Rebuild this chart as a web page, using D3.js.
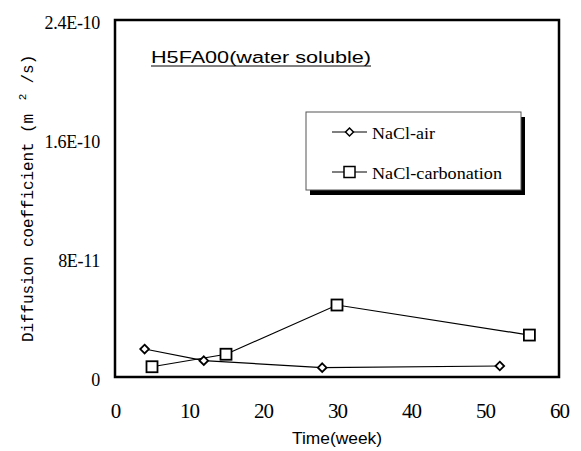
<!DOCTYPE html>
<html>
<head>
<meta charset="utf-8">
<script src="https://cdn.jsdelivr.net/npm/d3@7"></script>
<style>
  body { margin: 0; background: #fff; }
  svg { display: block; }
</style>
</head>
<body>
<div id="chart"></div>
<script>
// values
const airWeeks = [4, 12, 28, 52];
const airValues = [1.88e-11, 1.1e-11, 0.63e-11, 0.74e-11];
const carbWeeks = [5, 15, 30, 56];
const carbValues = [0.69e-11, 1.53e-11, 4.84e-11, 2.82e-11];
const xTicks = [0, 10, 20, 30, 40, 50, 60];
const yTicks = [0, 8e-11, 1.6e-10, 2.4e-10];
const yTickLabels = ["0", "8E-11", "1.6E-10", "2.4E-10"];
const seriesNames = ["NaCl-air", "NaCl-carbonation"];

const width = 581, height = 451;
const margin = { top: 20, right: 22, bottom: 74, left: 115 };

const x = d3.scaleLinear()
    .domain([0, 60])
    .range([margin.left, width - margin.right]);

const y = d3.scaleLinear()
    .domain([0, 2.4e-10])
    .range([height - margin.bottom, margin.top]);

const svg = d3.select("#chart").append("svg")
    .attr("width", width)
    .attr("height", height);

const serif = "'Liberation Serif', 'DejaVu Serif', serif";
const sans = "'Liberation Sans', Arial, sans-serif";

// plot frame
svg.append("rect")
    .attr("x", x(0))
    .attr("y", y(2.4e-10))
    .attr("width", x(60) - x(0))
    .attr("height", y(0) - y(2.4e-10))
    .attr("fill", "none")
    .attr("stroke", "#000")
    .attr("stroke-width", 2.5);

// x axis labels
const xAxis = svg.append("g")
    .attr("transform", `translate(0,${y(0)})`)
    .call(d3.axisBottom(x).tickValues(xTicks).tickSize(0).tickPadding(26));
xAxis.select(".domain").remove();
xAxis.selectAll("text")
    .attr("font-family", serif)
    .attr("font-size", 21)
    .attr("letter-spacing", -1)
    .attr("fill", "#000");

// y axis labels
const yAxis = svg.append("g")
    .attr("transform", `translate(${x(0)},3)`)
    .call(d3.axisLeft(y).tickValues(yTicks).tickSize(0).tickPadding(15)
        .tickFormat((d, i) => yTickLabels[i]));
yAxis.select(".domain").remove();
yAxis.selectAll("text")
    .attr("font-family", serif)
    .attr("font-size", 18)
    .attr("letter-spacing", -0.3)
    .attr("fill", "#000");

// axis titles
svg.append("text")
    .attr("x", 292)
    .attr("y", 444)
    .attr("font-family", sans)
    .attr("font-size", 16)
    .attr("textLength", 90)
    .attr("lengthAdjust", "spacingAndGlyphs")
    .text("Time(week)");

const ylab = svg.append("text")
    .attr("transform", `translate(33,342) rotate(-90)`)
    .attr("font-family", "'Liberation Mono', 'DejaVu Sans Mono', monospace")
    .attr("font-size", 16);
ylab.append("tspan").attr("textLength", 228).attr("lengthAdjust", "spacing")
    .text("Diffusion coefficient (m");
ylab.append("tspan").attr("dx", 14).attr("dy", -7).attr("font-size", 11).text("2");
ylab.append("tspan").attr("dx", 10).attr("dy", 7).text("/s)");

// chart title
svg.append("text")
    .attr("x", 151)
    .attr("y", 63)
    .attr("font-family", sans)
    .attr("font-size", 16)
    .attr("textLength", 220)
    .attr("lengthAdjust", "spacingAndGlyphs")
    .text("H5FA00(water soluble)");
svg.append("line")
    .attr("x1", 151).attr("x2", 371)
    .attr("y1", 66).attr("y2", 66)
    .attr("stroke", "#000")
    .attr("stroke-width", 1);

// lines
const line = d3.line().x(d => x(d[0])).y(d => y(d[1]));
const airData = airWeeks.map((w, i) => [w, airValues[i]]);
const carbData = carbWeeks.map((w, i) => [w, carbValues[i]]);

svg.append("path")
    .datum(airData)
    .attr("d", line)
    .attr("fill", "none")
    .attr("stroke", "#000")
    .attr("stroke-width", 1.2);

svg.append("path")
    .datum(carbData)
    .attr("d", line)
    .attr("fill", "none")
    .attr("stroke", "#000")
    .attr("stroke-width", 1.2);

const diamond = d3.symbol().type(d3.symbolDiamond2).size(48);

svg.append("g")
    .selectAll("path")
    .data(airData)
    .join("path")
    .attr("transform", d => `translate(${x(d[0])},${y(d[1])})`)
    .attr("d", diamond)
    .attr("fill", "#fff")
    .attr("stroke", "#000")
    .attr("stroke-width", 1.8);

svg.append("g")
    .selectAll("rect")
    .data(carbData)
    .join("rect")
    .attr("x", d => x(d[0]) - 5.5)
    .attr("y", d => y(d[1]) - 5.5)
    .attr("width", 11)
    .attr("height", 11)
    .attr("fill", "#fff")
    .attr("stroke", "#000")
    .attr("stroke-width", 1.8);

// legend
const lg = svg.append("g");
lg.append("rect")
    .attr("x", 310).attr("y", 117)
    .attr("width", 215).attr("height", 78)
    .attr("fill", "#000");
lg.append("rect")
    .attr("x", 306).attr("y", 112)
    .attr("width", 215).attr("height", 78)
    .attr("fill", "#fff")
    .attr("stroke", "#555")
    .attr("stroke-width", 1);

const legendY = [132, 172];
const legendTextW = [63, 130];
seriesNames.forEach((name, i) => {
    const ly = legendY[i];
    lg.append("line")
        .attr("x1", 332).attr("x2", 367)
        .attr("y1", ly).attr("y2", ly)
        .attr("stroke", "#000")
        .attr("stroke-width", 1.2);
    if (i === 0) {
        lg.append("path")
            .attr("transform", `translate(349.5,${ly})`)
            .attr("d", d3.symbol().type(d3.symbolDiamond2).size(40))
            .attr("fill", "#fff")
            .attr("stroke", "#000")
            .attr("stroke-width", 1.5);
    } else {
        lg.append("rect")
            .attr("x", 344).attr("y", ly - 5.5)
            .attr("width", 11).attr("height", 11)
            .attr("fill", "#fff")
            .attr("stroke", "#000")
            .attr("stroke-width", 1.5);
    }
    lg.append("text")
        .attr("x", 372)
        .attr("y", ly + 7)
        .attr("font-family", serif)
        .attr("font-size", 17)
        .attr("textLength", legendTextW[i])
        .attr("lengthAdjust", "spacingAndGlyphs")
        .text(name);
});
</script>
</body>
</html>
